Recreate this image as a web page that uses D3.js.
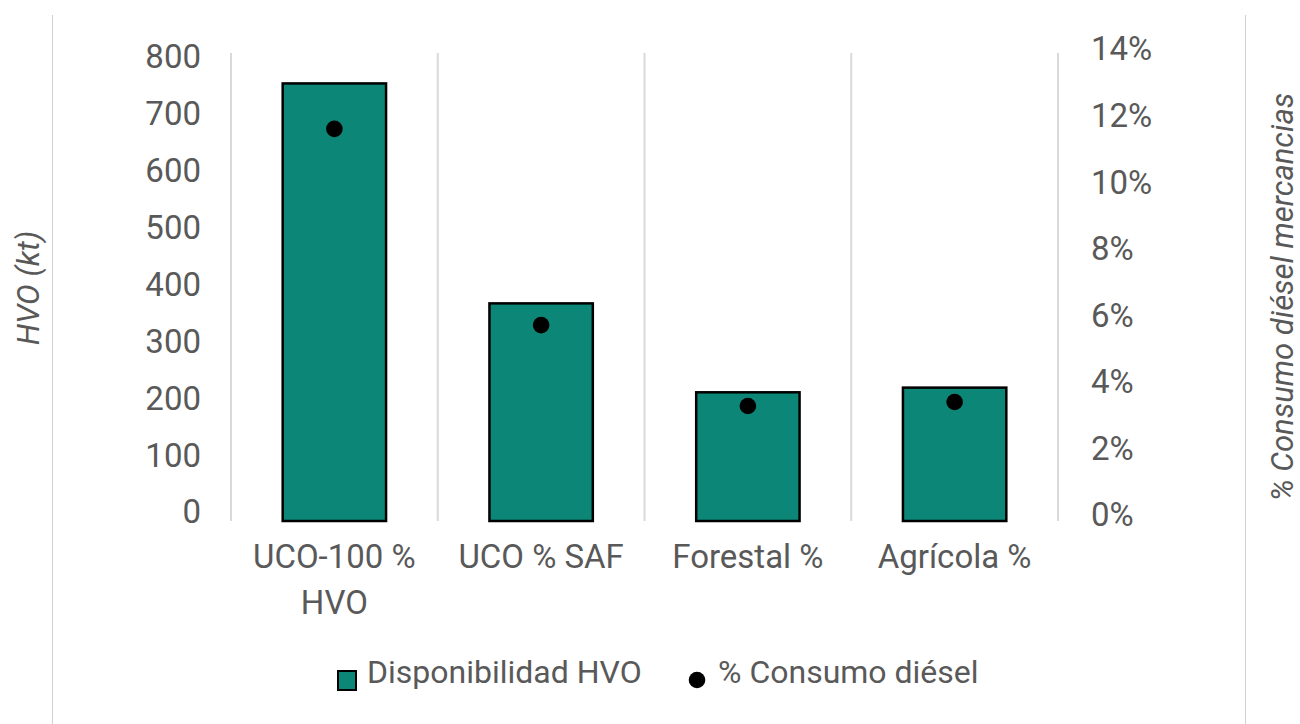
<!DOCTYPE html>
<html>
<head>
<meta charset="utf-8">
<script src="https://cdn.jsdelivr.net/npm/d3@7"></script>
<style>
  html, body { margin: 0; padding: 0; background: #fff; }
  svg { display: block; }
  text { font-family: "Roboto", "Noto Sans", sans-serif; fill: #595959; }
</style>
</head>
<body>
<svg id="chart" width="1300" height="724"></svg>
<script>
const categories = [["UCO-100 %", "HVO"], ["UCO % SAF"], ["Forestal %"], ["Agrícola %"]];
const categoryKeys = ["UCO-100 % HVO", "UCO % SAF", "Forestal %", "Agrícola %"];
const hvoValues = [748, 372, 220, 228];
const dieselShare = [0.1173, 0.0586, 0.0344, 0.0356];
const leftTicks = [0, 100, 200, 300, 400, 500, 600, 700, 800];
const rightTicks = [0, 0.02, 0.04, 0.06, 0.08, 0.10, 0.12, 0.14];
const seriesNames = ["Disponibilidad HVO", "% Consumo diésel"];
const axisTitles = ["HVO (kt)", "% Consumo diésel mercancias"];

const svg = d3.select("#chart");
const teal = "#0c8777";
const grey = "#595959";

const x = d3.scaleBand().domain(categoryKeys).range([231, 1058]).paddingInner(0.5).paddingOuter(0.25);
const yL = d3.scaleLinear().domain([0, 800]).range([521, 53]);
const yR = d3.scaleLinear().domain([0, 0.14]).range([521, 53]);
// label placement scales (tick labels sit slightly inside the plot range)
const yLLabel = d3.scaleLinear().domain([0, 800]).range([511, 56]);
const yRLabel = d3.scaleLinear().domain([0, 0.14]).range([514, 48]);

// outer frame lines
svg.append("line").attr("x1", 52.5).attr("x2", 52.5).attr("y1", 15).attr("y2", 724)
  .attr("stroke", "#d0d0d0").attr("stroke-width", 1);
svg.append("line").attr("x1", 1245.5).attr("x2", 1245.5).attr("y1", 15).attr("y2", 724)
  .attr("stroke", "#d0d0d0").attr("stroke-width", 1);

// vertical category gridlines
const gridX = categoryKeys.map(k => x(k) - (x.step() - x.bandwidth()) / 2);
gridX.push(x(categoryKeys[categoryKeys.length - 1]) + x.bandwidth() + (x.step() - x.bandwidth()) / 2);
svg.append("g").selectAll("line").data(gridX).join("line")
  .attr("x1", d => d).attr("x2", d => d)
  .attr("y1", yL(800)).attr("y2", yL(0))
  .attr("stroke", "#d9d9d9").attr("stroke-width", 2);

// bars
svg.append("g").selectAll("rect").data(hvoValues).join("rect")
  .attr("x", (d, i) => x(categoryKeys[i]))
  .attr("y", d => yL(d))
  .attr("width", x.bandwidth())
  .attr("height", d => yL(0) - yL(d))
  .attr("fill", teal).attr("stroke", "#000").attr("stroke-width", 2.5);

// dots
svg.append("g").selectAll("circle").data(dieselShare).join("circle")
  .attr("cx", (d, i) => x(categoryKeys[i]) + x.bandwidth() / 2)
  .attr("cy", d => yR(d))
  .attr("r", 8.3).attr("fill", "#000");

// left axis
const gL = svg.append("g").attr("transform", "translate(201,0)")
  .call(d3.axisLeft(yLLabel).tickValues(leftTicks).tickSize(0).tickPadding(0).tickFormat(d3.format("d")));
gL.select(".domain").remove();
gL.selectAll("text").attr("font-size", 33).attr("fill", grey).attr("dy", "0.36em")
  .style("font-family", "Roboto, sans-serif");

// right axis
const gR = svg.append("g").attr("transform", "translate(1091,0)")
  .call(d3.axisRight(yRLabel).tickValues(rightTicks).tickSize(0).tickPadding(0).tickFormat(d3.format(".0%")));
gR.select(".domain").remove();
gR.selectAll("text").attr("font-size", 33).attr("fill", grey).attr("dy", "0.36em")
  .style("font-family", "Roboto, sans-serif");

// category labels
const catG = svg.append("g").selectAll("text").data(categories).join("text")
  .attr("x", (d, i) => x(categoryKeys[i]) + x.bandwidth() / 2)
  .attr("y", 568)
  .attr("text-anchor", "middle").attr("font-size", 33).attr("fill", grey);
catG.selectAll("tspan").data(d => d).join("tspan")
  .attr("x", function () { return d3.select(this.parentNode).attr("x"); })
  .attr("dy", (d, i) => i === 0 ? 0 : 46)
  .text(d => d);

// axis titles
svg.append("text").attr("transform", "translate(39,288) rotate(-90)")
  .attr("text-anchor", "middle").attr("font-size", 31).attr("font-style", "italic")
  .attr("fill", grey).text(axisTitles[0]);
svg.append("text").attr("transform", "translate(1293,297) rotate(-90)")
  .attr("text-anchor", "middle").attr("font-size", 31).attr("font-style", "italic")
  .attr("fill", grey).text(axisTitles[1]);

// legend
const leg = svg.append("g");
leg.append("rect").attr("x", 338).attr("y", 671).attr("width", 18).attr("height", 19)
  .attr("fill", teal).attr("stroke", "#000").attr("stroke-width", 2);
leg.append("text").attr("x", 367).attr("y", 683).attr("font-size", 32).attr("fill", grey)
  .text(seriesNames[0]);
leg.append("circle").attr("cx", 697).attr("cy", 680).attr("r", 8.3).attr("fill", "#000");
leg.append("text").attr("x", 718).attr("y", 683).attr("font-size", 32).attr("fill", grey)
  .text(seriesNames[1]);
</script>
</body>
</html>
